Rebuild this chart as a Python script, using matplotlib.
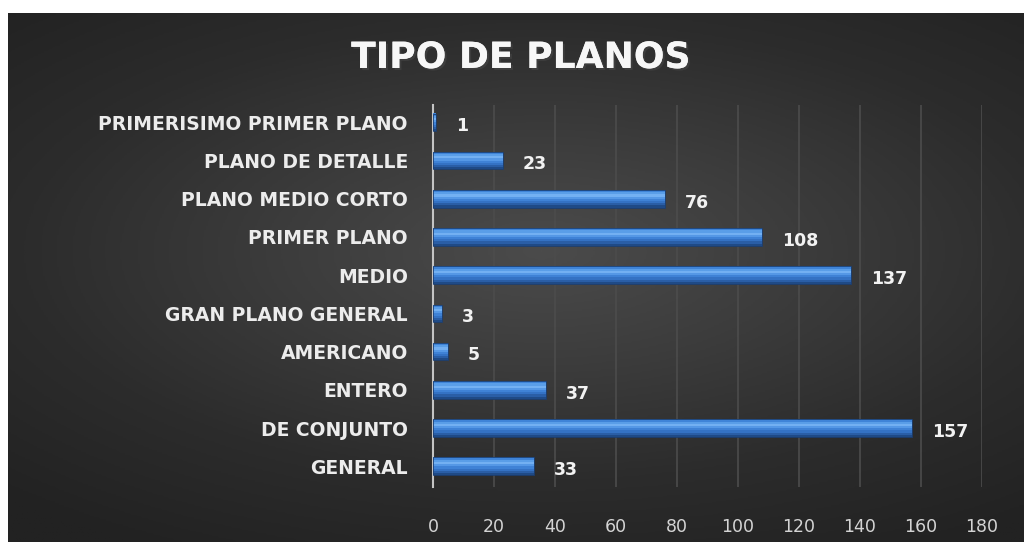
import numpy as np
import matplotlib.pyplot as plt
from matplotlib.colors import LinearSegmentedColormap
import matplotlib.patheffects as pe

categories = ['GENERAL', 'DE CONJUNTO', 'ENTERO', 'AMERICANO', 'GRAN PLANO GENERAL',
              'MEDIO', 'PRIMER PLANO', 'PLANO MEDIO CORTO', 'PLANO DE DETALLE',
              'PRIMERISIMO PRIMER PLANO']
values = [33, 157, 37, 5, 3, 137, 108, 76, 23, 1]
x_ticks = [0, 20, 40, 60, 80, 100, 120, 140, 160, 180]

plt.rcParams['font.family'] = ['DejaVu Sans']

fig = plt.figure(figsize=(10.24, 5.42), dpi=100)
fig.patch.set_facecolor('white')

# dark radial gradient background
bg = fig.add_axes([8 / 1024, 0, 1 - 8 / 1024, 1 - 13 / 542])
yy, xx = np.mgrid[-1:1:300j, -1:1:600j]
r = np.sqrt(((xx - 0.05) * 0.85) ** 2 + ((yy + 0.1) * 1.0) ** 2)
cmap = LinearSegmentedColormap.from_list('bg', ['#4b4b4b', '#3c3c3c', '#2c2c2c', '#222222'])
bg.imshow(r, cmap=cmap, vmin=0, vmax=1.3, aspect='auto', extent=[0, 1, 0, 1])
bg.set_axis_off()

ax = fig.add_axes([433 / 1024, 0.101, (982 - 433) / 1024, 0.705])
ax.patch.set_alpha(0)
y = np.arange(len(categories))

# cylinder-like shading: stacked thin bars from dark bottom to light top
shades = ['#1f4a86', '#2a5ea6', '#3472c4', '#3f82d6', '#5598e6', '#73b0f2', '#5a9ee8', '#3f84d8']
h = 0.46
n = len(shades)
for i, c in enumerate(shades):
    off = -h / 2 + (i + 0.5) * h / n
    ax.barh(y + off, values, height=h / n + 0.005, color=c, linewidth=0, zorder=3)
ax.barh(y, values, height=h, color='none', edgecolor='#1b3f73', linewidth=0.6, zorder=4)

for yi, v in zip(y, values):
    ax.text(v + 6.5, yi - 0.1, str(v), color='#f2f2f2', fontsize=12.5, fontweight='bold',
            va='center', ha='left', zorder=5)

ax.set_xlim(0, 180)
ax.set_ylim(-0.55, 9.45)
ax.set_xticks(x_ticks)
ax.set_xticklabels([str(t) for t in x_ticks], color='#d4d4d4', fontsize=12.5)
ax.set_yticks(y)
ax.set_yticklabels(categories, color='#ececec', fontsize=13.5, fontweight='bold')
ax.tick_params(axis='both', length=0)
ax.tick_params(axis='x', pad=22)
ax.tick_params(axis='y', pad=18)
ax.grid(axis='x', color='#4c4c4c', linewidth=1.2, zorder=1)
for s in ['top', 'right', 'bottom']:
    ax.spines[s].set_visible(False)
ax.spines['left'].set_color('#c4c4c4')
ax.spines['left'].set_linewidth(1.5)

fig.text(0.509, 0.893, 'TIPO DE PLANOS', color='#f7f7f7', fontsize=26, fontweight='bold',
         ha='center', va='center',
         path_effects=[pe.withSimplePatchShadow(offset=(1.5, -1.5), alpha=0.5), pe.Normal()])

fig.savefig('out.png', dpi=100)
